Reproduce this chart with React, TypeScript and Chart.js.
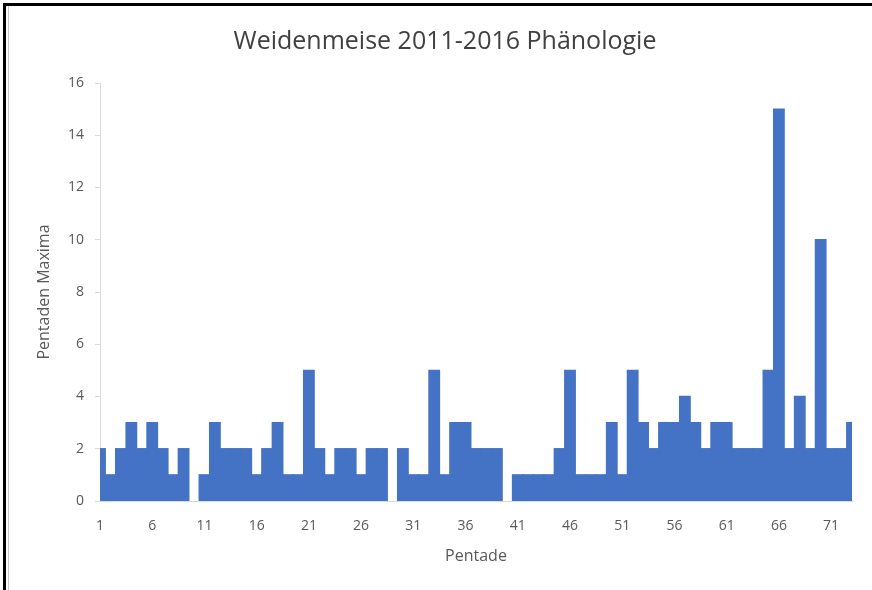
import React, { useEffect, useRef } from "react";
import { Chart, registerables } from "chart.js";

Chart.register(...registerables);

const TITLE = "Weidenmeise 2011-2016 Phänologie";
const X_TITLE = "Pentade";
const Y_TITLE = "Pentaden Maxima";

const pentaden: string[] = Array.from({ length: 73 }, (_, i) => String(i + 1));

const maxima: number[] = [
  2, 1, 2, 3, 2, 3, 2, 1, 2, 0,
  1, 3, 2, 2, 2, 1, 2, 3, 1, 1,
  5, 2, 1, 2, 2, 1, 2, 2, 0, 2,
  1, 1, 5, 1, 3, 3, 2, 2, 2, 0,
  1, 1, 1, 1, 2, 5, 1, 1, 1, 3,
  1, 5, 3, 2, 3, 3, 4, 3, 2, 3,
  3, 2, 2, 2, 5, 15, 2, 4, 2, 10,
  2, 2, 3,
];

const Y_MIN = 0;
const Y_MAX = 16;
const Y_STEP = 2;

const FONT = "'Open Sans', 'Noto Sans', sans-serif";
const TEXT = "#595959";
const AXIS = "#d9d9d9";
const BAR = "#4472c4";

const titlePlugin = {
  id: "centerTitle",
  afterDraw(chart: any) {
    const ctx = chart.ctx;
    ctx.save();
    ctx.font = `normal 25px ${FONT}`;
    ctx.fillStyle = "#404040";
    ctx.textAlign = "center";
    ctx.textBaseline = "middle";
    ctx.fillText(TITLE, 445, 42);
    ctx.restore();
  },
};

export default function App() {
  const ref = useRef<HTMLCanvasElement | null>(null);

  useEffect(() => {
    if (!ref.current) return;
    const chart = new Chart(ref.current, {
      type: "bar",
      data: {
        labels: pentaden,
        datasets: [
          {
            data: maxima,
            backgroundColor: BAR,
            borderWidth: 0,
            barPercentage: 1,
            categoryPercentage: 1,
            inflateAmount: ((c: any) => (c.raw === 0 ? 0 : 0.7)) as any,
            clip: 0 as any,
          },
        ],
      },
      plugins: [titlePlugin],
      options: {
        responsive: false,
        animation: false,
        devicePixelRatio: 1,
        layout: { padding: { left: 0, right: 20, top: 83, bottom: 0 } },
        plugins: {
          legend: { display: false },
          tooltip: { enabled: false },
          title: { display: false },
        },
        scales: {
          x: {
            type: "category",
            offset: false,
            grid: { display: true, drawOnChartArea: false, drawTicks: false, color: AXIS },
            border: { display: true, color: AXIS, width: 1 },
            ticks: {
              autoSkip: false,
              maxRotation: 0,
              minRotation: 0,
              padding: 17,
              color: TEXT,
              font: { family: FONT, size: 14 },
              callback: (_v: any, i: number) => (i % 5 === 0 ? pentaden[i] : ""),
            },
            title: {
              display: true,
              text: X_TITLE,
              color: TEXT,
              font: { family: FONT, size: 16 },
              padding: { top: 0, bottom: 24 },
            },
            afterFit: (s: any) => {
              s.height = 89;
            },
          },
          y: {
            min: Y_MIN,
            max: Y_MAX,
            ticks: {
              stepSize: Y_STEP,
              padding: 11,
              color: TEXT,
              font: { family: FONT, size: 14 },
            },
            grid: { display: true, drawOnChartArea: false, drawTicks: true, tickLength: 5, color: AXIS },
            border: { display: true, color: AXIS, width: 1 },
            title: {
              display: true,
              text: Y_TITLE,
              color: TEXT,
              font: { family: FONT, size: 16 },
              padding: { top: 35, bottom: 0 },
            },
            afterFit: (s: any) => {
              s.width = 100;
            },
          },
        },
      },
    });
    return () => chart.destroy();
  }, []);

  return (
    <div
      style={{
        position: "fixed",
        left: 0,
        top: 0,
        width: 872,
        height: 590,
        background: "#fff",
        overflow: "hidden",
      }}
    >
      <canvas ref={ref} width={872} height={590} style={{ position: "absolute", left: 0, top: 0 }} />
      <div style={{ position: "absolute", left: 3, top: 3, width: 869, height: 3, background: "#000" }} />
      <div style={{ position: "absolute", left: 3, top: 3, width: 3, height: 587, background: "#000" }} />
      <div style={{ position: "absolute", left: 8, top: 6, width: 1, height: 584, background: "#c8c8c8" }} />
    </div>
  );
}
